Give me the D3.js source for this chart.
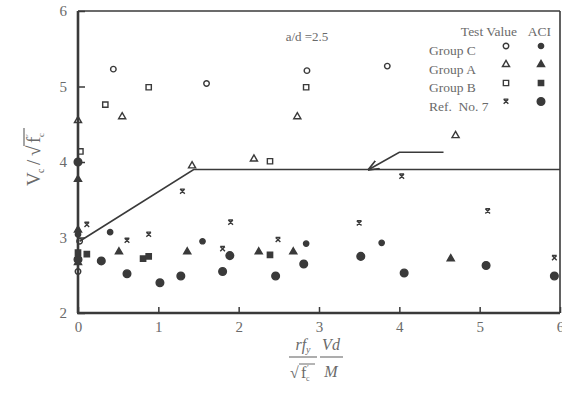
<!DOCTYPE html>
<html>
<head>
<meta charset="utf-8">
<script src="https://cdn.jsdelivr.net/npm/d3@7"></script>
<style>
  body { margin: 0; background: #fff; }
  text { font-family: "Liberation Serif", "DejaVu Serif", serif; }
</style>
</head>
<body>
<svg id="chart" width="562" height="397"></svg>
<script>
// ---- data ----
const xTicks = [0, 1, 2, 3, 4, 5, 6];
const yTicks = [2, 3, 4, 5, 6];

const groupCTest = [[0.44, 5.23], [1.6, 5.04], [2.85, 5.21], [3.85, 5.27], [0, 2.55], [0.02, 2.95]];
const groupCAci  = [[0.4, 3.07], [1.55, 2.95], [2.84, 2.92], [3.78, 2.93], [0, 3.04]];
const groupATest = [[0.55, 4.6], [1.42, 3.95], [2.19, 4.04], [2.73, 4.6], [4.7, 4.35], [0, 4.55]];
const groupAAci  = [[0.51, 2.81], [1.36, 2.81], [2.25, 2.81], [2.68, 2.81], [4.64, 2.72], [0, 3.77], [0, 3.1], [0, 2.67]];
const groupBTest = [[0.34, 4.76], [0.88, 4.99], [2.39, 4.01], [2.84, 4.99], [0.03, 4.14]];
const groupBAci  = [[0.81, 2.72], [0.88, 2.75], [2.39, 2.77], [0.11, 2.78], [0, 2.8]];
const ref7Test   = [[0.11, 3.17], [0.61, 2.96], [0.88, 3.04], [1.3, 3.61], [1.8, 2.85], [1.9, 3.2],
                    [2.49, 2.97], [3.5, 3.19], [4.03, 3.81], [5.1, 3.35], [5.93, 2.73]];
const ref7Aci    = [[0, 4.0], [0.29, 2.69], [0.61, 2.52], [1.02, 2.4], [1.28, 2.49], [1.8, 2.55], [1.89, 2.76],
                    [2.46, 2.49], [2.81, 2.65], [3.52, 2.75], [4.06, 2.53], [5.08, 2.63], [5.93, 2.49], [0, 2.71]];

// ACI limit line and the leader arrow pointing at it
const aciLine = [[0.02, 2.95], [1.44, 3.9], [6, 3.9]];
const leader  = [[4.55, 4.13], [4.0, 4.13], [3.62, 3.9]];

const legendLabels = ['Group C', 'Group A', 'Group B', 'Ref.  No. 7'];

// ---- chart ----
const ink = '#3a3a3a';
const grey = '#6a6a6a';

const svg = d3.select('#chart');

const x = d3.scaleLinear().domain([0, 6]).range([78, 560]);
const y = d3.scaleLinear().domain([2, 6]).range([313, 11]);

// custom "x" marker used for Ref. No. 7 test values
const symbolRefX = {
  draw(ctx, size) {
    const r = Math.sqrt(size) / 2;
    ctx.moveTo(-r, -r); ctx.lineTo(r, r);
    ctx.moveTo(r, -r); ctx.lineTo(-r, r);
    ctx.moveTo(-r, -r); ctx.lineTo(r, -r);
  }
};

const markerStyles = {
  cTest: { type: d3.symbolCircle, size: 24, fill: 'none' },
  cAci:  { type: d3.symbolCircle, size: 22, fill: ink },
  aTest: { type: d3.symbolTriangle, size: 22, fill: 'none' },
  aAci:  { type: d3.symbolTriangle, size: 22, fill: ink },
  bTest: { type: d3.symbolSquare, size: 28, fill: 'none' },
  bAci:  { type: d3.symbolSquare, size: 28, fill: ink },
  rTest: { type: symbolRefX, size: 22, fill: 'none' },
  rAci:  { type: d3.symbolCircle, size: 46, fill: ink }
};

// y axis (ticks pointing inward)
svg.append('g')
  .attr('transform', 'translate(' + x(0) + ',0)')
  .call(d3.axisLeft(y).tickValues(yTicks).tickSize(-7).tickPadding(11).tickFormat(d3.format('d')))
  .call(g => g.select('.domain').remove())
  .call(g => g.selectAll('.tick line').attr('stroke', ink).attr('stroke-width', 1.5))
  .call(g => g.selectAll('.tick text').attr('fill', grey).style('font-size', '15px')
    .style('font-family', '"Liberation Serif", serif'));

// x axis
svg.append('g')
  .attr('transform', 'translate(0,' + y(2) + ')')
  .call(d3.axisBottom(x).tickValues(xTicks).tickSize(-6).tickPadding(8).tickFormat(d3.format('d')))
  .call(g => g.select('.domain').remove())
  .call(g => g.selectAll('.tick line').attr('stroke', ink).attr('stroke-width', 1.5))
  .call(g => g.selectAll('.tick text').attr('fill', grey).style('font-size', '15px')
    .style('font-family', '"Liberation Serif", serif'));

// frame: heavy left/bottom, light top/right
const frame = svg.append('g').attr('stroke', ink).attr('fill', 'none');
frame.append('line').attr('x1', x(0)).attr('x2', x(0)).attr('y1', y(6)).attr('y2', y(2)).attr('stroke-width', 2.6);
frame.append('line').attr('x1', x(0) - 1).attr('x2', x(6)).attr('y1', y(2)).attr('y2', y(2)).attr('stroke-width', 2.6);
frame.append('line').attr('x1', x(0)).attr('x2', x(6)).attr('y1', y(6)).attr('y2', y(6)).attr('stroke-width', 1.6);
frame.append('line').attr('x1', x(6)).attr('x2', x(6)).attr('y1', y(6)).attr('y2', y(2)).attr('stroke-width', 1.6);

// ACI line
const line = d3.line().x(d => x(d[0])).y(d => y(d[1]));
svg.append('path')
  .attr('d', line(aciLine))
  .attr('fill', 'none')
  .attr('stroke', ink)
  .attr('stroke-width', 1.6);

// leader with arrow head
svg.append('defs').append('marker')
  .attr('id', 'arrow')
  .attr('viewBox', '0 0 10 10')
  .attr('refX', 9).attr('refY', 5)
  .attr('markerWidth', 7).attr('markerHeight', 7)
  .attr('orient', 'auto')
  .append('path')
  .attr('d', 'M0,1 L10,5 L0,9')
  .attr('fill', 'none')
  .attr('stroke', ink)
  .attr('stroke-width', 1.5);

svg.append('path')
  .attr('d', line(leader))
  .attr('fill', 'none')
  .attr('stroke', ink)
  .attr('stroke-width', 1.6)
  .attr('marker-end', 'url(#arrow)');

// markers
function drawSeries(data, style) {
  svg.append('g').selectAll('path')
    .data(data)
    .join('path')
    .attr('transform', d => 'translate(' + x(d[0]) + ',' + y(d[1]) + ')')
    .attr('d', d3.symbol().type(style.type).size(style.size))
    .attr('fill', style.fill)
    .attr('stroke', ink)
    .attr('stroke-width', 1.4);
}

drawSeries(groupCTest, markerStyles.cTest);
drawSeries(groupCAci, markerStyles.cAci);
drawSeries(groupATest, markerStyles.aTest);
drawSeries(groupAAci, markerStyles.aAci);
drawSeries(groupBTest, markerStyles.bTest);
drawSeries(groupBAci, markerStyles.bAci);
drawSeries(ref7Test, markerStyles.rTest);
drawSeries(ref7Aci, markerStyles.rAci);

// note
svg.append('text')
  .attr('x', 307).attr('y', 41)
  .attr('text-anchor', 'middle')
  .attr('fill', grey)
  .style('font-size', '13px')
  .text('a/d =2.5');

// legend
const legend = svg.append('g');
legend.append('text').attr('x', 517).attr('y', 36).attr('text-anchor', 'end')
  .attr('fill', grey).style('font-size', '13.5px').text('Test Value');
legend.append('text').attr('x', 551).attr('y', 36).attr('text-anchor', 'end')
  .attr('fill', grey).style('font-size', '13.5px').text('ACI');

const legendPairs = [
  [markerStyles.cTest, markerStyles.cAci],
  [markerStyles.aTest, markerStyles.aAci],
  [markerStyles.bTest, markerStyles.bAci],
  [markerStyles.rTest, markerStyles.rAci]
];

legendLabels.forEach((label, i) => {
  const ty = 55 + i * 18.5;
  legend.append('text').attr('x', 429).attr('y', ty)
    .attr('fill', grey).style('font-size', '13.5px')
    .style('white-space', 'pre')
    .text(label);
  const [ts, as] = legendPairs[i];
  legend.append('path')
    .attr('transform', 'translate(506,' + (ty - 9) + ')')
    .attr('d', d3.symbol().type(ts.type).size(ts.size))
    .attr('fill', ts.fill).attr('stroke', ink).attr('stroke-width', 1.4);
  legend.append('path')
    .attr('transform', 'translate(541,' + (ty - 9) + ')')
    .attr('d', d3.symbol().type(as.type).size(as.size))
    .attr('fill', as.fill).attr('stroke', ink).attr('stroke-width', 1.4);
});

// y axis title:  V_c / sqrt(f'_c)
const yTitle = svg.append('g')
  .attr('transform', 'translate(40,155) rotate(-90)')
  .attr('fill', grey);
yTitle.append('text').attr('x', -31).attr('y', 0).style('font-size', '19px').text('V');
yTitle.append('text').attr('x', -18).attr('y', 4).style('font-size', '10px').text('c');
yTitle.append('text').attr('x', -10).attr('y', 0).style('font-size', '19px').text('/');
yTitle.append('text').attr('x', -1).attr('y', 0).style('font-size', '19px').text('\u221A');
yTitle.append('text').attr('x', 12).attr('y', 0).style('font-size', '19px').text('f');
yTitle.append('text').attr('x', 18).attr('y', 4).style('font-size', '9px').text('c');
yTitle.append('text').attr('x', 19).attr('y', -8).style('font-size', '9px').text('\u2032');
yTitle.append('line').attr('x1', 9).attr('x2', 27).attr('y1', -16).attr('y2', -16)
  .attr('stroke', grey).attr('stroke-width', 1.2);

// x axis title: (r f_y / sqrt(f'_c)) (Vd / M)
const xTitle = svg.append('g').attr('fill', grey);
const num = xTitle.append('text').attr('x', 303).attr('y', 350).attr('text-anchor', 'middle')
  .style('font-size', '16px').style('font-style', 'italic');
num.append('tspan').text('rf');
num.append('tspan').attr('dy', 3).style('font-size', '10px').text('y');
xTitle.append('line').attr('x1', 289).attr('x2', 317).attr('y1', 357).attr('y2', 357)
  .attr('stroke', grey).attr('stroke-width', 1.1);
xTitle.append('text').attr('x', 290).attr('y', 378).style('font-size', '16px').text('\u221A');
xTitle.append('text').attr('x', 301).attr('y', 378).style('font-size', '16px').text('f');
xTitle.append('text').attr('x', 306).attr('y', 381).style('font-size', '8px').text('c');
xTitle.append('text').attr('x', 307).attr('y', 371).style('font-size', '8px').text('\u2032');
xTitle.append('line').attr('x1', 299).attr('x2', 315).attr('y1', 364).attr('y2', 364)
  .attr('stroke', grey).attr('stroke-width', 1);

xTitle.append('text').attr('x', 331).attr('y', 350).attr('text-anchor', 'middle')
  .style('font-size', '16px').style('font-style', 'italic').text('Vd');
xTitle.append('line').attr('x1', 320).attr('x2', 343).attr('y1', 357).attr('y2', 357)
  .attr('stroke', grey).attr('stroke-width', 1.1);
xTitle.append('text').attr('x', 331).attr('y', 377).attr('text-anchor', 'middle')
  .style('font-size', '16px').style('font-style', 'italic').text('M');
</script>
</body>
</html>
